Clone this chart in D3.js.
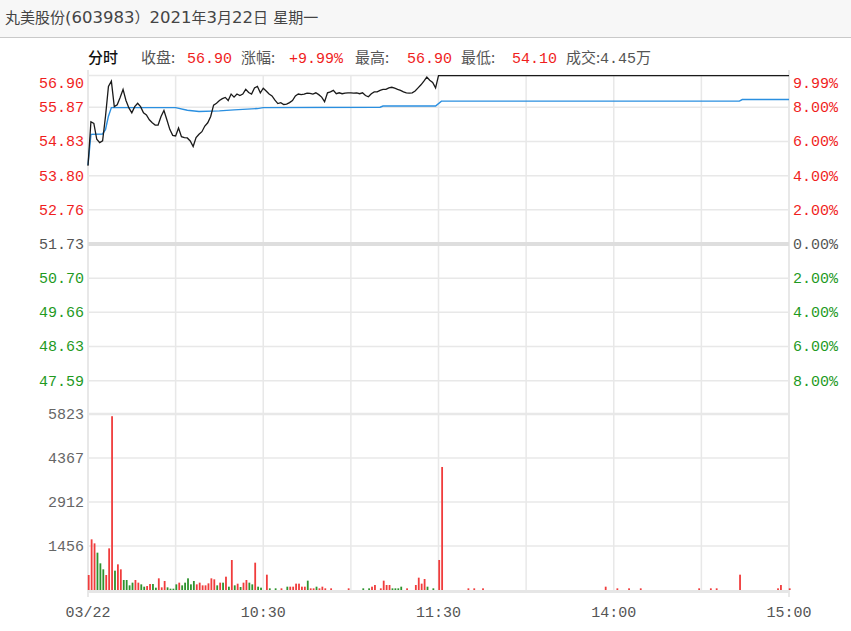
<!DOCTYPE html>
<html>
<head>
<meta charset="utf-8">
<style>
  body { margin: 0; background: #fff; }
  svg { display: block; }
  .num { font-family: 'Liberation Mono', 'DejaVu Sans Mono', monospace; font-size: 15px; }
  .cjk { font-family: 'Noto Sans CJK SC', sans-serif; }
  .lat { font-family: 'DejaVu Sans', sans-serif; }
</style>
</head>
<body>
<svg width="851" height="631"></svg>
<script src="https://d3js.org/d3.v7.min.js"></script>
<script>
// ---- data ----
const title = "丸美股份(603983）2021年3月22日 星期一"
const prevClose = 51.73

const headerLabels = ["收盘:", "涨幅:", "最高:", "最低:", "成交:"]
const headerValues = ["56.90", "+9.99%", "56.90", "54.10", "4.45万"]

const priceTicks = ["56.90", "55.87", "54.83", "53.80", "52.76", "51.73", "50.70", "49.66", "48.63", "47.59"]
const pctTicks = ["9.99%", "8.00%", "6.00%", "4.00%", "2.00%", "0.00%", "2.00%", "4.00%", "6.00%", "8.00%"]
const pctLevels = [10, 8, 6, 4, 2, 0, -2, -4, -6, -8]
const volTicks = [5823, 4367, 2912, 1456]
const timeLabels = ["03/22", "10:30", "11:30", "14:00", "15:00"]
const timeMinutes = [0, 60, 120, 180, 240]

// morning, one price per minute (0 = 9:30 ... 120 = 11:30)
const priceAM = [54.10, 55.43, 55.38, 54.90, 54.80, 54.85, 55.60, 56.55, 56.72, 55.89,
  55.95, 56.19, 56.45, 56.09, 55.85, 55.70, 55.89, 56.00, 55.89, 55.70,
  55.64, 55.49, 55.40, 55.33, 55.33, 55.59, 55.77, 55.49, 55.20, 55.02,
  55.00, 55.24, 54.98, 54.95, 54.94, 54.85, 54.68, 54.95, 55.05, 55.13,
  55.30, 55.40, 55.59, 55.94, 56.00, 56.09, 56.15, 56.19, 56.09, 56.30,
  56.20, 56.30, 56.25, 56.30, 56.45, 56.35, 56.30, 56.50, 56.55, 56.34,
  56.49, 56.40, 56.30, 56.24, 56.10, 55.99, 56.02, 55.96, 55.97, 56.02,
  56.09, 56.24, 56.30, 56.28, 56.30, 56.33, 56.32, 56.30, 56.34, 56.28,
  56.20, 56.05, 56.34, 56.37, 56.42, 56.31, 56.34, 56.31, 56.33, 56.34,
  56.34, 56.33, 56.34, 56.31, 56.34, 56.25, 56.21, 56.31, 56.37, 56.37,
  56.42, 56.45, 56.45, 56.50, 56.52, 56.49, 56.45, 56.42, 56.37, 56.34,
  56.33, 56.34, 56.40, 56.50, 56.60, 56.72, 56.85, 56.75, 56.68, 56.50,
  56.90]
// afternoon: limit-up, flat
const pmMinutes = [121, 240]
const pmPrices = [56.90, 56.90]

// average price line
const avgMinutes = [0, 1, 5, 6, 7, 8, 30, 34, 38, 45, 50, 58, 60, 100, 101, 119, 121, 223, 224, 240]
const avgPrices = [54.12, 55.05, 55.06, 55.20, 55.60, 55.86, 55.86, 55.78, 55.74, 55.76, 55.79, 55.83, 55.86, 55.87, 55.91, 55.91, 56.07, 56.07, 56.12, 56.12]

// volume bars (minute, volume in lots, 1 = up/red, 0 = down/green)
const volMinutes = [0, 1, 2, 3, 4, 5, 6, 7, 8, 9, 10, 11, 12, 13, 14, 15, 16, 17, 18, 19,
  20, 21, 22, 23, 24, 25, 26, 27, 28, 29, 30, 31, 32, 33, 34, 35, 36, 37, 38, 39,
  40, 41, 42, 43, 44, 45, 46, 47, 48, 49, 50, 51, 52, 53, 54, 55, 56, 57, 58, 59,
  61, 62, 64, 66, 68, 69, 70, 71, 72, 73, 74, 75, 76, 77, 78, 79, 80, 81, 83, 89,
  94, 96, 97, 98, 100, 101, 102, 103, 104, 105, 106, 107, 109, 112, 113, 114, 115, 116, 118, 120,
  121, 130, 132, 135, 177, 181, 185, 189, 209, 213, 215, 223, 236, 237, 240]
const volValues = [496, 1676, 1543, 1235, 882, 684, 496, 1378, 5750, 640, 849, 684, 331, 331, 154, 243, 331, 243, 187, 110,
  132, 198, 198, 77, 386, 88, 298, 88, 44, 44, 187, 243, 154, 243, 386, 187, 298, 187, 243, 154,
  154, 220, 386, 353, 154, 243, 243, 441, 110, 992, 154, 209, 99, 243, 331, 243, 187, 904, 110, 77,
  507, 55, 55, 55, 110, 110, 110, 210, 210, 110, 110, 309, 55, 55, 110, 55, 110, 55, 55, 55,
  55, 55, 110, 165, 55, 309, 165, 165, 55, 55, 55, 110, 55, 165, 408, 210, 364, 110, 55, 993,
  4070, 55, 55, 55, 110, 55, 55, 55, 55, 55, 55, 507, 55, 165, 55]
const volUp = [1, 1, 1, 0, 0, 0, 1, 1, 1, 0, 1, 1, 0, 0, 0, 0, 1, 1, 0, 0,
  1, 1, 0, 0, 1, 1, 1, 0, 0, 0, 0, 1, 0, 0, 0, 0, 0, 1, 1, 1,
  1, 1, 1, 1, 0, 1, 0, 1, 0, 1, 0, 1, 0, 1, 1, 0, 0, 1, 0, 0,
  1, 0, 0, 1, 0, 1, 1, 1, 1, 1, 1, 0, 1, 1, 0, 1, 1, 1, 1, 1,
  0, 0, 1, 1, 1, 1, 1, 1, 0, 0, 0, 0, 1, 1, 1, 1, 1, 0, 0, 1,
  1, 1, 1, 1, 1, 1, 1, 1, 1, 1, 1, 1, 1, 1, 1]

// ---- drawing ----
const red = "#f01e1e", green = "#1f9a1f", gray = "#555"
const svg = d3.select("svg")
const plotL = 88, plotR = 789, plotT = 75.5

const x = d3.scaleLinear().domain([0, 240]).range([plotL, plotR])
// top band (8% -> limit) is drawn a bit tighter than the rest, like the original
const yPct = d3.scaleLinear().domain([-10, 8, 10]).range([414.8, 107.3, plotT])
const yPrice = p => yPct((p / prevClose - 1) * 100)
const yVol = d3.scaleLinear().domain([0, 5823]).range([590, 414])

// title bar
svg.append("rect").attr("x", 0).attr("y", 0).attr("width", 851).attr("height", 37).attr("fill", "#f7f7f7")
svg.append("line").attr("x1", 0).attr("x2", 851).attr("y1", 37.5).attr("y2", 37.5).attr("stroke", "#c9c9c9")
// chinese runs and latin runs get different fonts (latin digits are wide in the original)
let titleText = svg.append("text").attr("x", 5).attr("y", 23).attr("fill", "#444")
  .attr("xml:space", "preserve").style("white-space", "pre")
title.match(/[\u3000-\u9fff\uff00-\uffef]+|[^\u3000-\u9fff\uff00-\uffef]+/g).forEach(run => {
  let cjk = /[\u3000-\u9fff\uff00-\uffef]/.test(run)
  titleText.append("tspan").attr("class", cjk ? "cjk" : "lat")
    .attr("font-size", cjk ? 15 : 16.5).text(run)
})

// header row
svg.append("text").attr("class", "cjk").attr("x", 88).attr("y", 63)
  .attr("font-size", 15).attr("fill", "#111").attr("font-weight", 500).text("分时")
const labelX = [141, 241, 355, 461, 566]
const valueX = [187, 289, 407, 512, 600]
headerLabels.forEach((t, i) => {
  svg.append("text").attr("class", "cjk").attr("x", labelX[i]).attr("y", 63)
    .attr("font-size", 15).attr("fill", gray).text(t)
})
headerValues.forEach((t, i) => {
  let last = i == headerValues.length - 1
  let g = svg.append("text").attr("class", "num").attr("x", valueX[i]).attr("y", 63)
    .attr("fill", last ? gray : red)
  if (last) {
    g.append("tspan").text(t.slice(0, -1))
    g.append("tspan").attr("class", "cjk").attr("font-size", 15).text(t.slice(-1))
  } else g.text(t)
})

// grid
let grid = svg.append("g").attr("stroke", "#e8e8e8").attr("fill", "none")
d3.range(0, 241, 30).forEach(m => {
  let edge = m == 0 || m == 240
  grid.append("line").attr("x1", x(m)).attr("x2", x(m))
    .attr("y1", edge ? 70 : plotT).attr("y2", edge ? 597 : 590)
    .attr("stroke-width", edge ? 2 : 1.5)
})
pctLevels.forEach(p => {
  grid.append("line").attr("x1", plotL).attr("x2", plotR).attr("y1", yPct(p)).attr("y2", yPct(p))
    .attr("stroke-width", p == 0 ? 4 : 1.5).attr("stroke", p == 0 ? "#dedede" : "#e8e8e8")
})
volTicks.forEach((v, i) => {
  grid.append("line").attr("x1", plotL).attr("x2", plotR).attr("y1", yVol(v)).attr("y2", yVol(v))
    .attr("stroke-width", i == 0 ? 2.5 : 1.5)
})
grid.append("line").attr("x1", plotL).attr("x2", plotR).attr("y1", 591.5).attr("y2", 591.5)
  .attr("stroke-width", 3).attr("stroke", "#e6e6e6")

// volume bars
svg.append("g").selectAll("rect")
  .data(volMinutes.map((m, i) => ({ m: m, v: volValues[i], up: volUp[i] })))
  .join("rect")
  .attr("x", d => x(d.m) - 0.2)
  .attr("width", 1.8)
  .attr("y", d => Math.min(yVol(d.v), 589))
  .attr("height", d => Math.max(590 - yVol(d.v), 1))
  .attr("fill", d => d.up ? "#f03c3c" : "#2e932e")

// price + average lines
let pricePts = priceAM.map((p, i) => [i, p]).concat(pmMinutes.map((m, i) => [m, pmPrices[i]]))
let avgPts = avgMinutes.map((m, i) => [m, avgPrices[i]])
let line = d3.line().x(d => x(d[0])).y(d => yPrice(d[1]))
svg.append("path").attr("d", line(avgPts)).attr("fill", "none")
  .attr("stroke", "#2a8fe0").attr("stroke-width", 1.4)
svg.append("path").attr("d", line(pricePts)).attr("fill", "none")
  .attr("stroke", "#1a1a1a").attr("stroke-width", 1.3)

// left and right axis labels
let labelY = p => Math.max(yPct(p), plotT + 7) + 5
priceTicks.forEach((t, i) => {
  let p = pctLevels[i]
  let c = p > 0 ? red : p < 0 ? green : gray
  svg.append("text").attr("class", "num").attr("x", 84).attr("y", labelY(p))
    .attr("text-anchor", "end").attr("fill", c).text(t)
  svg.append("text").attr("class", "num").attr("x", 793).attr("y", labelY(p))
    .attr("fill", c).text(pctTicks[i])
})
volTicks.forEach(v => {
  svg.append("text").attr("class", "num").attr("x", 84).attr("y", yVol(v) + 5)
    .attr("text-anchor", "end").attr("fill", "#666").text(v)
})

// time axis
timeLabels.forEach((t, i) => {
  svg.append("text").attr("class", "num").attr("x", x(timeMinutes[i])).attr("y", 617)
    .attr("text-anchor", "middle").attr("fill", gray).text(t)
})
</script>
</body>
</html>
